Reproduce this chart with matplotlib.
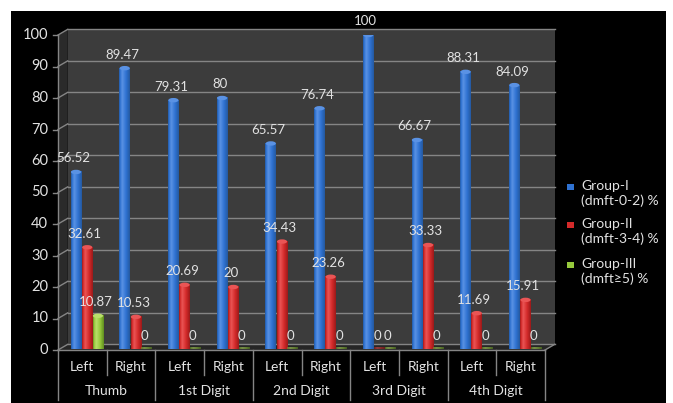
import matplotlib
matplotlib.use("Agg")
import matplotlib.pyplot as plt
import numpy as np
from matplotlib.patches import Rectangle, Polygon, Ellipse
from matplotlib.colors import LinearSegmentedColormap

# ---- data -------------------------------------------------------------
sides = ["Left", "Right", "Left", "Right", "Left", "Right", "Left", "Right", "Left", "Right"]
digits = ["Thumb", "1st Digit", "2nd Digit", "3rd Digit", "4th Digit"]
group1 = [56.52, 89.47, 79.31, 80, 65.57, 76.74, 100, 66.67, 88.31, 84.09]
group2 = [32.61, 10.53, 20.69, 20, 34.43, 23.26, 0, 33.33, 11.69, 15.91]
group3 = [10.87, 0, 0, 0, 0, 0, 0, 0, 0, 0]
labels1 = ["56.52", "89.47", "79.31", "80", "65.57", "76.74", "100", "66.67", "88.31", "84.09"]
labels2 = ["32.61", "10.53", "20.69", "20", "34.43", "23.26", "0", "33.33", "11.69", "15.91"]
labels3 = ["10.87", "0", "0", "0", "0", "0", "0", "0", "0", "0"]
legend_labels = ["Group-I\n(dmft-0-2) %", "Group-II\n(dmft-3-4) %", "Group-III\n(dmft\u22655) %"]
yticks = [0, 10, 20, 30, 40, 50, 60, 70, 80, 90, 100]

W, H = 673, 403
FONT = ["Lato", "DejaVu Sans"]
TXT = "#e2e2e2"
GRID = "#858585"
WALL = "#3c3c3c"

plt.rcParams["font.family"] = FONT

fig = plt.figure(figsize=(W / 100, H / 100), dpi=100, facecolor="white")


def fx(x):
    return x / W


def fy(y):
    return 1 - y / H


# black panel behind the chart
fig.patches.append(Rectangle((fx(11), 0), fx(666) - fx(11), fy(11), transform=fig.transFigure,
                             facecolor="black", edgecolor="none", zorder=-5))

ax = fig.add_axes([fx(58), fy(350), fx(545) - fx(58), fy(35) - fy(350)])
ax.set_zorder(2)
ax.set_xlim(0, 10)
ax.set_ylim(0, 100)
ax.axis("off")
ax.patch.set_alpha(0)

dx, dy = 0.2, 1.8  # depth offset of the back wall

# back wall and floor
ax.add_patch(Rectangle((dx, dy), 10, 100, facecolor=WALL, edgecolor="none", zorder=1, clip_on=False))
ax.add_patch(Polygon([(0, 0), (10, 0), (10 + dx, dy), (dx, dy)], closed=True,
                     facecolor="#262626", edgecolor="none", zorder=1.5, clip_on=False))
ax.add_patch(Polygon([(0, 0), (dx, dy), (dx, 100 + dy), (0, 100)], closed=True,
                     facecolor="#2a2a2a", edgecolor="none", zorder=1.2, clip_on=False))

# gridlines, ticks and tick labels
for v in yticks:
    ax.plot([dx, 10 + dx], [v + dy, v + dy], color=GRID, lw=1.0, zorder=2, clip_on=False)
    ax.plot([0, dx], [v, v + dy], color=GRID, lw=1.0, zorder=2, clip_on=False)
    ax.plot([-0.1, 0], [v, v], color=GRID, lw=1.0, zorder=2, clip_on=False)
    ax.text(-0.2, v, str(v), ha="right", va="center", color=TXT, fontsize=10.5, zorder=5)
ax.plot([0, 0], [0, 100], color=GRID, lw=1.0, zorder=2, clip_on=False)
ax.plot([0, 10], [0, 0], color=GRID, lw=1.0, zorder=6, clip_on=False)
ax.plot([10, 10 + dx], [0, dy], color=GRID, lw=1.0, zorder=6, clip_on=False)


def make_cmap(dark, base, light):
    return LinearSegmentedColormap.from_list(
        "bar", [(0, dark), (0.1, base), (0.3, light), (0.65, base), (1, dark)])


series = [
    (group1, labels1, 0.37, make_cmap("#24599f", "#2f72d2", "#5a92e4"), "#5a92e4"),
    (group2, labels2, 0.60, make_cmap("#9a1a1a", "#d42a2a", "#ea5555"), "#ea5555"),
    (group3, labels3, 0.82, make_cmap("#5f8e1e", "#96c93c", "#b9e06a"), "#b9e06a"),
]
bw = 0.22
grad = np.linspace(0, 1, 64).reshape(1, -1)

for vals, labs, off, cmap, capc in series:
    for i, (v, lab) in enumerate(zip(vals, labs)):
        c = i + off
        h = v if v > 0 else 0.7
        ax.imshow(grad, cmap=cmap, extent=[c - bw / 2, c + bw / 2, 0.3, h],
                  aspect="auto", zorder=3, interpolation="bilinear",
                  alpha=1.0 if v > 0 else 0.55)
        if v > 0:
            ax.add_patch(Ellipse((c, h), bw * 0.95, 1.4, facecolor=capc, edgecolor="none", zorder=3.5))
        ax.text(c - 0.05, v + 4.3, lab, ha="center", va="center", color=TXT, fontsize=9.5, zorder=7)

ax.set_xlim(0, 10)
ax.set_ylim(0, 100)


def data_y(py):
    # convert a pixel row (from top) into data units
    return (350 - py) / 3.15


# two-level category axis
for i, s in enumerate(sides):
    ax.text(i + 0.5, data_y(367), s, ha="center", va="center", color=TXT, fontsize=10, clip_on=False)
for j, d in enumerate(digits):
    ax.text(2 * j + 1, data_y(391), d, ha="center", va="center", color=TXT, fontsize=10, clip_on=False)
for k in range(11):
    bottom = data_y(400) if k % 2 == 0 else data_y(375)
    ax.plot([k, k], [0, bottom], color=GRID, lw=1.0, clip_on=False, zorder=6)

# legend
leg_colors = ["#2f72d2", "#d42a2a", "#96c93c"]
leg_y = [187, 225, 265]
for col, lab, y in zip(leg_colors, legend_labels, leg_y):
    fig.patches.append(Rectangle((fx(567), fy(y + 3)), fx(7), 6 / H, transform=fig.transFigure,
                                 facecolor=col, edgecolor="none", zorder=5))
    fig.text(fx(581), fy(y - 7), lab, ha="left", va="top", color=TXT, fontsize=10,
             linespacing=1.2, family=FONT, zorder=5)

fig.savefig("out.png", dpi=100, facecolor="white")
